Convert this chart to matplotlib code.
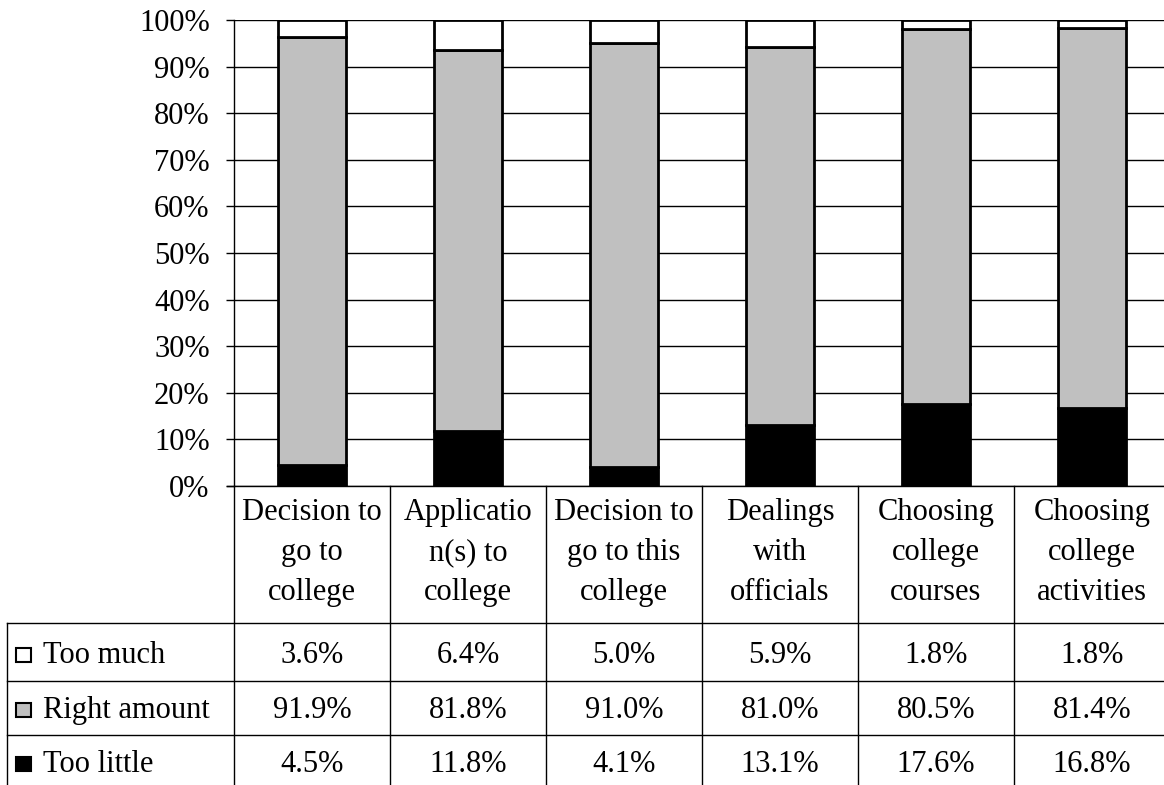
import matplotlib
matplotlib.use("Agg")
import matplotlib.pyplot as plt
from matplotlib.transforms import blended_transform_factory
from matplotlib.patches import Rectangle

# ---- data ----
categories = [
    "Decision to\ngo to\ncollege",
    "Applicatio\nn(s) to\ncollege",
    "Decision to\ngo to this\ncollege",
    "Dealings\nwith\nofficials",
    "Choosing\ncollege\ncourses",
    "Choosing\ncollege\nactivities",
]
series_names = ["Too much", "Right amount", "Too little"]
too_much = [3.6, 6.4, 5.0, 5.9, 1.8, 1.8]
right_amount = [91.9, 81.8, 91.0, 81.0, 80.5, 81.4]
too_little = [4.5, 11.8, 4.1, 13.1, 17.6, 16.8]
series_colors = ["#FFFFFF", "#C0C0C0", "#000000"]
y_ticks = [0, 10, 20, 30, 40, 50, 60, 70, 80, 90, 100]

plt.rcParams["font.family"] = ["Liberation Serif", "DejaVu Serif"]
FS = 22

W, H = 1164, 785
fig = plt.figure(figsize=(W / 100, H / 100), dpi=100)


def fx(px):
    return px / W


def fy(py):
    return 1 - py / H


ax_left, ax_right, ax_top, ax_bottom = 234, 1170, 20, 486
ax = fig.add_axes([fx(ax_left), fy(ax_bottom), fx(ax_right - ax_left),
                   (ax_bottom - ax_top) / H])

n = len(categories)
x = list(range(n))
bar_w = 0.435

# stacked bars: too little at the bottom, then right amount, then too much
bottoms = [0.0] * n
for vals, col in [(too_little, series_colors[2]),
                  (right_amount, series_colors[1]),
                  (too_much, series_colors[0])]:
    ax.bar(x, vals, bar_w, bottom=bottoms, color=col, edgecolor="black",
           linewidth=2.0, zorder=3)
    bottoms = [b + v for b, v in zip(bottoms, vals)]

ax.set_xlim(-0.5, n - 0.5)
ax.set_ylim(0, 100)
ax.set_yticks(y_ticks)
ax.set_yticklabels([f"{t}%" for t in y_ticks], fontsize=FS)
ax.tick_params(axis="y", direction="out", length=5.5, width=1, pad=12)
ax.tick_params(axis="x", length=0, labelbottom=False)
ax.yaxis.grid(True, color="black", linewidth=1, zorder=0)
for s in ["top", "right", "bottom"]:
    ax.spines[s].set_visible(False)
ax.spines["left"].set_linewidth(1)
ax.set_facecolor("none")

# ---- data table below the plot ----
tr = blended_transform_factory(ax.transData, fig.transFigure)
line_kw = dict(color="black", linewidth=1, clip_on=False)

header_bottom = 623
row_lines = [623, 681, 735]
row_baselines = [663, 718, 772]
header_baselines = [520, 560, 600]
table_left = 7

# baseline of the plot, shared with the table
fig.add_artist(plt.Line2D([fx(227), fx(W)], [fy(ax_bottom), fy(ax_bottom)], **line_kw))
# column dividers
for k in range(n + 1):
    xb = k - 0.5
    fig.add_artist(plt.Line2D([xb, xb], [fy(ax_bottom), fy(H + 5)],
                              transform=tr, **line_kw))
# row lines
for ry in row_lines:
    fig.add_artist(plt.Line2D([fx(table_left), fx(W)], [fy(ry), fy(ry)], **line_kw))
fig.add_artist(plt.Line2D([fx(table_left), fx(table_left)], [fy(header_bottom), fy(H + 5)],
                          **line_kw))

# category headers, one line at a time
for i, c in enumerate(categories):
    for line, yb in zip(c.split("\n"), header_baselines):
        fig.text(i, fy(yb), line, transform=tr, ha="center", va="baseline",
                 fontsize=FS)

# row labels with legend keys and values
row_values = [too_much, right_amount, too_little]
for r, (name, vals, col) in enumerate(zip(series_names, row_values, series_colors)):
    yb = row_baselines[r]
    fig.add_artist(Rectangle((fx(16), fy(yb - 1)), fx(15), 14 / H,
                             facecolor=col, edgecolor="black", linewidth=1.5,
                             transform=fig.transFigure))
    fig.text(fx(43), fy(yb), name, ha="left", va="baseline", fontsize=FS)
    for i, v in enumerate(vals):
        fig.text(i, fy(yb), f"{v:.1f}%", transform=tr, ha="center",
                 va="baseline", fontsize=FS)

fig.savefig("out.png", dpi=100, facecolor="white")
